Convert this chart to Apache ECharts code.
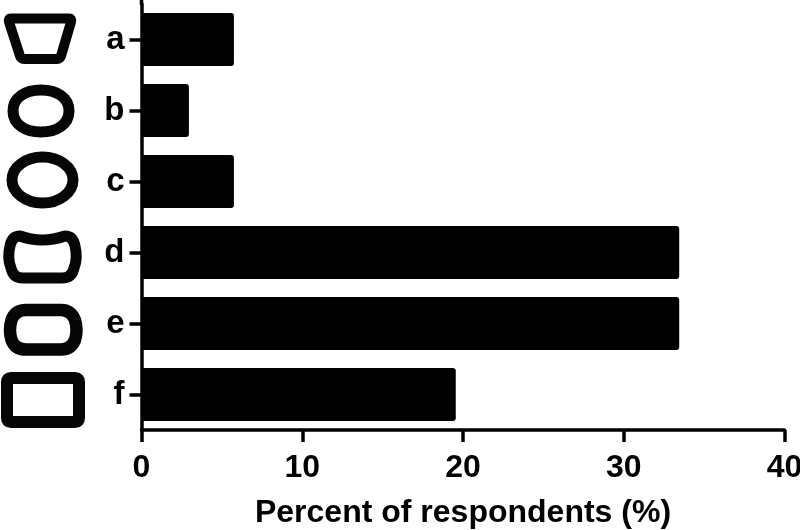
<!DOCTYPE html>
<html>
<head>
<meta charset="utf-8">
<style>
  html, body { margin: 0; padding: 0; background: #fff; }
  #chart { width: 800px; height: 530px; }
</style>
<script src="https://cdn.jsdelivr.net/npm/echarts@6/dist/echarts.min.js"></script>
</head>
<body>
<div id="chart"></div>
<script>
const categories = ['a', 'b', 'c', 'd', 'e', 'f']
const percents = [5.75, 2.95, 5.75, 33.45, 33.45, 19.55]
const xTicks = { min: 0, max: 40, interval: 10 }
const xTitle = 'Percent of respondents (%)'

const FONT = '"Liberation Sans", Arial, sans-serif'
const INK = '#000'

// outline icons left of the category labels, in canvas pixels
const shape = (pathData, lineWidth) => ({
  type: 'path',
  shape: { pathData },
  style: { fill: 'none', stroke: '#060606', lineWidth, lineJoin: 'round' }
})

const icons = [
  shape('M11 18.5 L69 18.5 Q72 18.5 71 22 L61 56 Q60 59 57 59 L24 59 Q21 59 20 56 L9 22 Q8 18.5 11 18.5 Z', 10),
  shape('M13 111 C13 97 26 90 41 90 C56 90 69 97 69 111 C69 125 56 132 41 132 C26 132 13 125 13 111 Z', 11),
  shape('M12 180 C12 167 26 157 42.5 157 C59 157 73 167 73 180 C73 193 59 203 42.5 203 C26 203 12 193 12 180 Z', 11),
  shape('M20 236 Q42 244 65 236 Q73 236 75 246 Q78 258 74 268 Q72 278 62 278 L23 278 Q13 278 11 268 Q7 258 10 246 Q12 236 20 236 Z', 11),
  shape('M26 310 L61 310 Q71 310 75 320 Q78 330 75 340 Q71 349.5 61 349.5 L26 349.5 Q15 349.5 11.5 340 Q8.5 330 11.5 320 Q15 310 26 310 Z', 12.5),
  shape('M11 378 L75 378 Q79 378 79 382 L79 418 Q79 422 75 422 L11 422 Q7 422 7 418 L7 382 Q7 378 11 378 Z', 12)
]

const chart = echarts.init(document.getElementById('chart'), null, { renderer: 'canvas' })

chart.setOption({
  animation: false,
  backgroundColor: '#fff',
  grid: { left: 141.5, right: 15.5, top: 4, bottom: 100, outerBoundsMode: 'none' },
  xAxis: {
    type: 'value',
    min: xTicks.min,
    max: xTicks.max,
    interval: xTicks.interval,
    name: xTitle,
    nameLocation: 'middle',
    nameGap: 67,
    nameTextStyle: { color: INK, fontFamily: FONT, fontWeight: 'bold', fontSize: 32 },
    splitLine: { show: false },
    axisLine: { show: true, lineStyle: { color: INK, width: 3.5 } },
    axisTick: { show: true, length: 12, lineStyle: { color: INK, width: 3.5 } },
    axisLabel: { color: INK, fontFamily: FONT, fontWeight: 'bold', fontSize: 32, margin: 22, hideOverlap: false }
  },
  yAxis: {
    type: 'category',
    inverse: true,
    data: categories,
    axisLine: { show: true, lineStyle: { color: INK, width: 3.5 } },
    axisTick: { show: true, alignWithLabel: true, length: 12, lineStyle: { color: INK, width: 3.5 } },
    axisLabel: { color: INK, fontFamily: FONT, fontWeight: 'bold', fontSize: 33, margin: 17, padding: [4, 0, 0, 0] }
  },
  series: [
    {
      type: 'bar',
      data: percents,
      barWidth: 53,
      itemStyle: { color: INK, borderRadius: [0, 3, 3, 0] }
    },
    {
      type: 'custom',
      silent: true,
      clip: false,
      data: [0],
      renderItem: () => ({ type: 'group', children: icons })
    }
  ],
  graphic: [
    // y axis line runs past the plot at the top edge
    { type: 'line', shape: { x1: 141.5, y1: 0, x2: 141.5, y2: 5 }, style: { stroke: INK, lineWidth: 3.5 } }
  ]
})
</script>
</body>
</html>
